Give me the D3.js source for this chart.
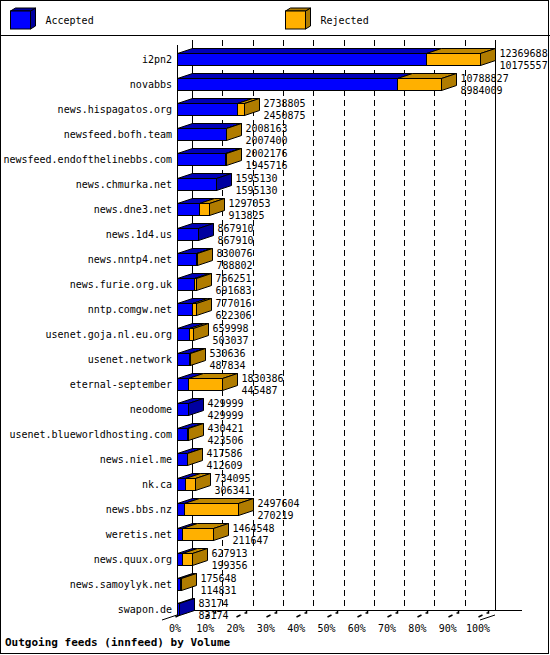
<!DOCTYPE html>
<html><head><meta charset="utf-8">
<script src="https://cdn.jsdelivr.net/npm/d3@7"></script>
<style>body{margin:0;background:#fff}text{font-family:"DejaVu Sans Mono",monospace;font-size:10px}</style>
</head><body><div id="chart"></div>
<script>
var hosts = ["i2pn2","novabbs","news.hispagatos.org","newsfeed.bofh.team","newsfeed.endofthelinebbs.com",
  "news.chmurka.net","news.dne3.net","news.1d4.us","news.nntp4.net","news.furie.org.uk","nntp.comgw.net",
  "usenet.goja.nl.eu.org","usenet.network","eternal-september","neodome","usenet.blueworldhosting.com",
  "news.niel.me","nk.ca","news.bbs.nz","weretis.net","news.quux.org","news.samoylyk.net","swapon.de"];
var offered = [12369688,10788827,2738805,2008163,2002176,1595130,1297053,867910,830076,766251,777016,
  659998,530636,1830386,429999,430421,417586,734095,2497604,1464548,627913,175648,83174];
var accepted = [10175557,8984009,2450875,2007400,1945716,1595130,913825,867910,788802,691683,622306,
  503037,487834,445487,429999,423506,412609,306341,270219,211647,199356,114831,83174];
var pctTicks = [0,10,20,30,40,50,60,70,80,90,100];

var W = 550, H = 655, dx = 15, dy = 5, bh = 12;
var svg = d3.select("#chart").append("svg").attr("width", W).attr("height", H);

svg.append("rect").attr("x",0.5).attr("y",0.5).attr("width",548).attr("height",653)
  .attr("fill","#fff").attr("stroke","#000");
svg.append("line").attr("x1",0).attr("x2",W).attr("y1",35.5).attr("y2",35.5).attr("stroke","#000");

var x = d3.scaleLinear().domain([0, d3.max(offered)]).range([177, 480]);
var pct = d3.scaleLinear().domain([0,100]).range([177, 480]);
var y = d3.scalePoint().domain(hosts).range([59, 609]);

// back wall grid
var g = svg.append("g");
pctTicks.forEach(function(p){
  var bx = Math.round(pct(p) + dx) + 0.5;
  g.append("line").attr("x1",bx).attr("x2",bx).attr("y1",40).attr("y2",610)
    .attr("stroke","#000").attr("stroke-dasharray",(p==0||p==100)?null:"6,4");
  var fx = Math.round(pct(p)) + 0.5;
  g.append("path").attr("d","M"+(fx-2)+",617 L"+(fx+2)+",615 M"+(fx+6)+",613 l2,0 l0,-2")
    .attr("stroke","#000").attr("fill","none").attr("stroke-width",1.5);
  g.append("text").attr("x",pct(p)-2).attr("y",632).attr("text-anchor","middle").text(p+"%");
});
g.append("line").attr("x1",177).attr("x2",522).attr("y1",610.5).attr("y2",610.5).attr("stroke","#000");
g.append("line").attr("x1",162).attr("x2",177).attr("y1",620).attr("y2",615).attr("stroke","#000");
g.append("line").attr("x1",480).attr("x2",495).attr("y1",620).attr("y2",615).attr("stroke","#000");
g.append("line").attr("x1",177.5).attr("x2",177.5).attr("y1",45).attr("y2",615).attr("stroke","#000");

var C = {af:"#0000ff", at:"#0000b8", as:"#0000a0", rf:"#ffb000", rt:"#c08800", rs:"#b07c00"};

function box(x0, x1, yt, front, top, side, showSide){
  var grp = svg.append("g").attr("stroke","#000").attr("stroke-width",1);
  grp.append("path").attr("fill",top)
    .attr("d","M"+x0+","+yt+" L"+(x0+dx)+","+(yt-dy)+" L"+(x1+dx)+","+(yt-dy)+" L"+x1+","+yt+"Z");
  if (showSide) grp.append("path").attr("fill",side)
    .attr("d","M"+x1+","+yt+" L"+(x1+dx)+","+(yt-dy)+" L"+(x1+dx)+","+(yt-dy+bh)+" L"+x1+","+(yt+bh)+"Z");
  grp.append("rect").attr("x",x0).attr("y",yt).attr("width",Math.max(0,x1-x0)).attr("height",bh).attr("fill",front);
}

hosts.forEach(function(h, i){
  var cy = y(h), yt = Math.round(cy - bh/2) + 0.5;
  var xa = Math.round(x(accepted[i])) + 0.5, xo = Math.round(x(offered[i])) + 0.5, x0 = 177.5;
  var rej = offered[i] > accepted[i];
  box(x0, xa, yt, C.af, C.at, C.as, !rej);
  if (rej) box(xa, xo, yt, C.rf, C.rt, C.rs, true);
  svg.append("text").attr("x",172).attr("y",cy+4).attr("text-anchor","end").text(h);
  svg.append("text").attr("x",xo+dx+4).attr("y",cy-2).text(offered[i]);
  svg.append("text").attr("x",xo+dx+4).attr("y",cy+10).text(accepted[i]);
});

// legend
function legendBox(lx, front, side, label){
  var grp = svg.append("g").attr("stroke","#000");
  grp.append("path").attr("fill",side).attr("d","M"+(lx+20)+",11 l5,-3 l0,18 l-5,3Z");
  grp.append("path").attr("fill",side).attr("d","M"+lx+",11 l5,-3 l20,0 l-5,3Z");
  grp.append("rect").attr("x",lx).attr("y",11).attr("width",20).attr("height",18).attr("fill",front);
  svg.append("text").attr("x",lx+35).attr("y",24).text(label);
}
legendBox(10.5, C.af, C.as, "Accepted");
legendBox(285.5, C.rf, C.rs, "Rejected");

svg.append("text").attr("x",5).attr("y",646).attr("font-weight","bold").style("font-size","11px")
  .text("Outgoing feeds (innfeed) by Volume");
</script></body></html>
